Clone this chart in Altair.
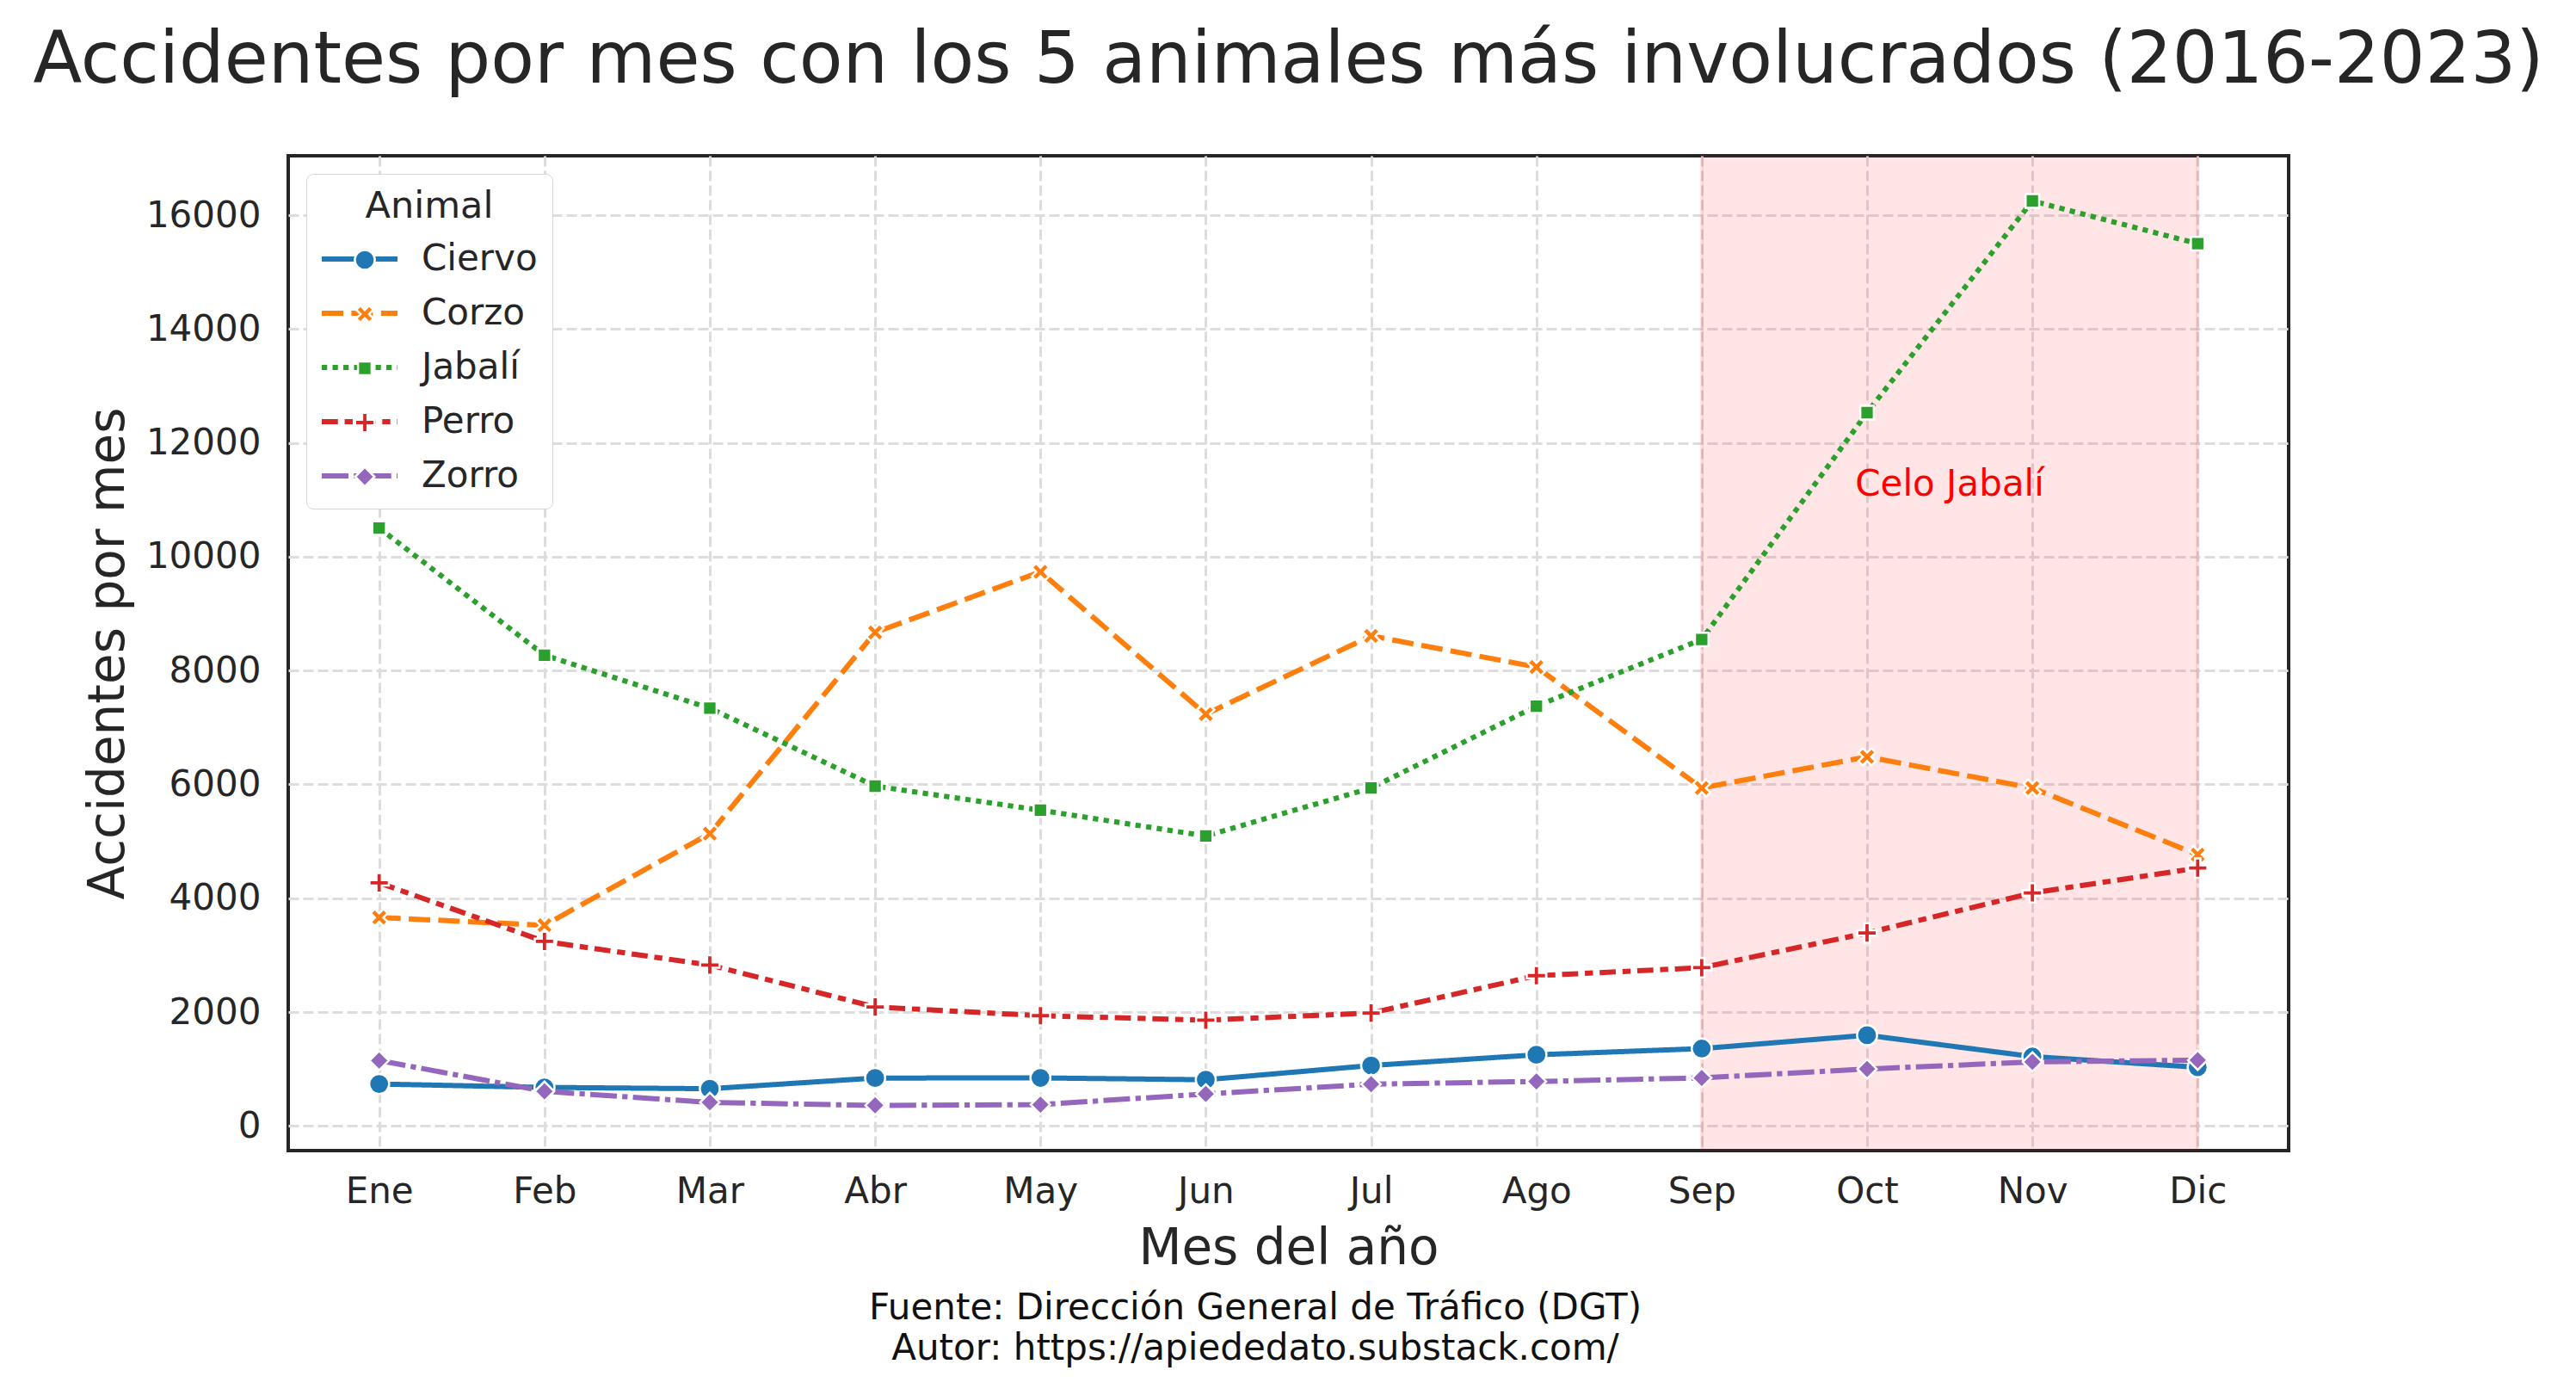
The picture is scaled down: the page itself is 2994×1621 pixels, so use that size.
import json
import altair as alt
import pandas as pd

# ---------------- data ----------------
meses = ["Ene", "Feb", "Mar", "Abr", "May", "Jun", "Jul", "Ago", "Sep", "Oct", "Nov", "Dic"]
animales = ["Ciervo", "Corzo", "Jabalí", "Perro", "Zorro"]
ciervo = [737, 677, 654, 842, 844, 812, 1062, 1250, 1359, 1594, 1219, 1031]
corzo = [3662, 3526, 5135, 8669, 9734, 7234, 8609, 8062, 5937, 6484, 5937, 4766]
jabali = [10504, 8271, 7339, 5970, 5547, 5094, 5937, 7375, 8547, 12531, 16250, 15500]
perro = [4271, 3241, 2827, 2090, 1937, 1859, 1984, 2640, 2781, 3390, 4094, 4531]
zorro = [1150, 609, 414, 361, 375, 562, 734, 781, 844, 1000, 1125, 1156]
y_ticks = [0, 2000, 4000, 6000, 8000, 10000, 12000, 14000, 16000]

celo_inicio, celo_fin = 8, 11          # Sep .. Dic
celo_texto = "Celo Jabalí"
celo_x, celo_y = 9.5, 11070

titulo = "Accidentes por mes con los 5 animales más involucrados (2016-2023)"
pie = ["Fuente: Dirección General de Tráfico (DGT)", "Autor: https://apiededato.substack.com/"]

colores = ["#1f77b4", "#ff7f0e", "#2ca02c", "#d62728", "#9467bd"]
dashes = [[1, 0], [25, 9.4], [6.25, 6.25], [18.75, 7.8, 9.4, 7.8], [31, 6.25, 6.25, 6.25]]
shapes = [
    "circle",
    "M-0.86,-0.44L-0.44,-0.86L0,-0.42L0.44,-0.86L0.86,-0.44L0.42,0L0.86,0.44L0.44,0.86L0,0.42L-0.44,0.86L-0.86,0.44L-0.42,0Z",
    "M-0.68,-0.68L0.68,-0.68L0.68,0.68L-0.68,0.68Z",
    "M-0.27,-0.97L0.27,-0.97L0.27,-0.27L0.97,-0.27L0.97,0.27L0.27,0.27L0.27,0.97L-0.27,0.97L-0.27,0.27L-0.97,0.27L-0.97,-0.27L-0.27,-0.27Z",
    "M0,-0.97L0.97,0L0,0.97L-0.97,0Z",
]

rows = []
for a, serie in zip(animales, [ciervo, corzo, jabali, perro, zorro]):
    for i, v in enumerate(serie):
        rows.append({"mes": i, "Animal": a, "valor": v})
df = pd.DataFrame(rows)

span_df = pd.DataFrame({"ini": [celo_inicio], "fin": [celo_fin]})
edges_df = pd.DataFrame({"borde": [celo_inicio, celo_fin]})
ann_df = pd.DataFrame({"x": [celo_x], "y": [celo_y], "t": [celo_texto]})
pie_df = pd.DataFrame({"t": ["\n".join(pie)]})

W, H = 2325, 1156
FONT = "DejaVu Sans"
TXT = "#262626"
MSIZE = 540

x_scale = alt.Scale(domain=[-0.55, 11.55], nice=False, zero=False)
y_scale = alt.Scale(domain=[-433, 17044], nice=False, zero=False)

x_enc = alt.X(
    "mes:Q", scale=x_scale,
    axis=alt.Axis(
        values=list(range(len(meses))),
        labelExpr=json.dumps(meses) + "[datum.value]",
        title="Mes del año", titleY=131, titleBaseline="alphabetic",
        labelPadding=27,
    ),
)
y_enc = alt.Y(
    "valor:Q", scale=y_scale,
    axis=alt.Axis(
        values=y_ticks, format="d", title="Accidentes por mes",
        titleX=-209, titleY=H / 2, titleBaseline="middle", titleAlign="center",
        labelPadding=32, labelBaseline="middle",
    ),
)

color_scale = alt.Scale(domain=animales, range=colores)
dash_scale = alt.Scale(domain=animales, range=dashes)
shape_scale = alt.Scale(domain=animales, range=shapes)

common = dict(orient="none", legendX=21, labelFontSize=42, labelFont=FONT,
              padding=17, rowPadding=21, clipHeight=42)
legend_lines = alt.Legend(
    **common, legendY=21,
    title="Animal", titleFontSize=43, titleFontWeight="normal", titleFont=FONT,
    titleAnchor="middle", titlePadding=18, titleColor=TXT, labelColor=TXT,
    symbolType="M-2.2,0L2.2,0", symbolSize=1600, symbolStrokeWidth=6,
    symbolOffset=22, labelOffset=49,
    fillColor="white", strokeColor="#d6d6d6", cornerRadius=8,
)
legend_marks = alt.Legend(
    **common, legendY=83, title=None, labelExpr="''",
    symbolSize=MSIZE, symbolStrokeColor="white", symbolStrokeWidth=2.5,
    symbolOffset=30, labelOffset=0,
)

span = alt.Chart(span_df).mark_rect(fill="#ff0000", fillOpacity=0.1).encode(
    x=alt.X("ini:Q", scale=x_scale), x2="fin:Q", y=alt.value(0), y2=alt.value(H)
)
edges = alt.Chart(edges_df).mark_rule(color="#ff0000", opacity=0.1, strokeWidth=4).encode(
    x=alt.X("borde:Q", scale=x_scale)
)

lines = alt.Chart(df).mark_line(strokeWidth=6, strokeCap="butt").encode(
    x=x_enc, y=y_enc,
    color=alt.Color("Animal:N", scale=color_scale, legend=legend_lines),
    strokeDash=alt.StrokeDash("Animal:N", scale=dash_scale, legend=legend_lines),
    order="mes:Q",
)
points = alt.Chart(df).mark_point(filled=True, size=MSIZE, stroke="white", strokeWidth=2.5, opacity=1).encode(
    x=alt.X("mes:Q", scale=x_scale), y=alt.Y("valor:Q", scale=y_scale),
    color=alt.Color("Animal:N", scale=color_scale, legend=legend_marks),
    shape=alt.Shape("Animal:N", scale=shape_scale, legend=legend_marks),
)
ann = alt.Chart(ann_df).mark_text(
    color="#ff0000", fontSize=42, font=FONT, align="center", baseline="alphabetic"
).encode(x=alt.X("x:Q", scale=x_scale), y=alt.Y("y:Q", scale=y_scale), text="t:N")

footer = alt.Chart(pie_df).mark_text(
    color="#111111", fontSize=42, font=FONT, align="center", baseline="alphabetic",
    lineBreak="\n", lineHeight=47,
).encode(x=alt.value(1124), y=alt.value(1352), text="t:N")

chart = alt.layer(span, edges, lines, points, ann, footer).resolve_legend(
    color="independent", shape="independent", strokeDash="independent"
).properties(
    width=W, height=H,
    title=alt.TitleParams(
        text=titulo, fontSize=83, font=FONT, fontWeight="normal", color=TXT,
        anchor="middle", offset=0, baseline="alphabetic",
    ),
    autosize=alt.AutoSizeParams(type="none"),
    padding={"left": 327, "top": 173, "right": 320, "bottom": 270},
).configure_view(
    stroke=TXT, strokeWidth=4
).configure_axis(
    labelFont=FONT, labelFontSize=42, labelColor=TXT,
    titleFont=FONT, titleFontSize=58, titleColor=TXT, titleFontWeight="normal",
    grid=True, gridColor="#dddddd", gridDash=[12, 5], gridWidth=3,
    ticks=False, tickSize=0, domain=False,
)

chart.save("out.html", embed_options={"renderer": "svg", "actions": False})
